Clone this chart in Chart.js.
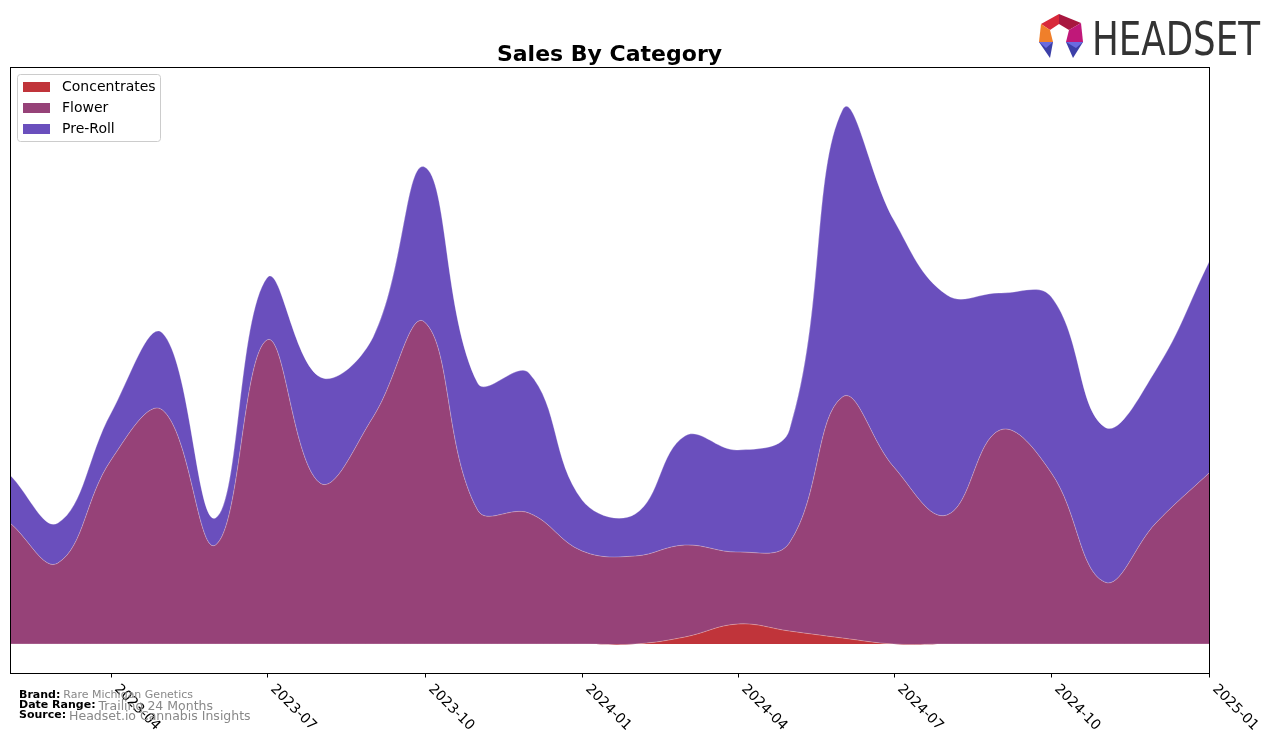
<!DOCTYPE html>
<html>
<head>
<meta charset="utf-8">
<script src="https://cdn.jsdelivr.net/npm/chart.js@4/dist/chart.umd.min.js"></script>
<style>
  body { margin: 0; background: #fff; }
  #wrap { width: 1276px; height: 743px; position: relative; }
</style>
</head>
<body>
<div id="wrap"><canvas id="chartSales" width="1276" height="743"></canvas></div>
<script>
const CONC  = '#C0343A';
const FLOW  = '#964278';
const PRE   = '#6A4FBD';

const months = ['2023-02','2023-03','2023-04','2023-05','2023-06','2023-07','2023-08','2023-09','2023-10','2023-11','2023-12',
  '2024-01','2024-02','2024-03','2024-04','2024-05','2024-06','2024-07','2024-08','2024-09','2024-10','2024-11','2024-12','2025-01'];
const tickLabels = ['2023-04','2023-07','2023-10','2024-01','2024-04','2024-07','2024-10','2025-01'];

// values (arbitrary units, stacked)
const concentrates = [0, 0, 0, 0, 0, 0, 0, 0, 0, 0, 0, 0, 0, 7, 20, 13, 6, 0, 0, 0, 0, 0, 0, 0];
const flower       = [121, 81, 184, 234, 99, 304, 161, 227, 322, 134, 131, 93, 88, 92, 72, 88, 241, 177, 129, 214, 171, 62, 121, 171];
const preRoll      = [48, 40, 47, 77, 27, 62, 106, 80, 155, 127, 140, 51, 42, 109, 102, 113, 287, 247, 220, 137, 176, 155, 153, 211];

const seriesNames = ['Concentrates', 'Flower', 'Pre-Roll'];

const footer = [
  ['Brand:', 'Rare Michigan Genetics', 11],
  ['Date Range:', 'Trailing 24 Months', 12.5],
  ['Source:', 'Headset.io Cannabis Insights', 12.5],
];

// days since first month, so spacing follows the calendar
function dayOf(m) {
  const [y, mo] = m.split('-').map(Number);
  const [y0, m0] = months[0].split('-').map(Number);
  return (Date.UTC(y, mo - 1, 1) - Date.UTC(y0, m0 - 1, 1)) / 86400000;
}
const xDays = months.map(dayOf);

function poly(ctx, pts, color) {
  ctx.beginPath();
  ctx.moveTo(pts[0][0], pts[0][1]);
  for (let i = 1; i < pts.length; i++) ctx.lineTo(pts[i][0], pts[i][1]);
  ctx.closePath();
  ctx.fillStyle = color;
  ctx.fill();
}

const decor = {
  id: 'decor',
  afterDraw(chart) {
    const ctx = chart.ctx;
    const a = chart.chartArea;
    const xs = chart.scales.x;
    ctx.save();

    // frame
    ctx.strokeStyle = '#000';
    ctx.lineWidth = 1;
    ctx.strokeRect(a.left + 0.5, a.top + 0.5, a.right - a.left, a.bottom - a.top);

    // x ticks + rotated labels
    ctx.font = '14px "DejaVu Sans"';
    ctx.fillStyle = '#000';
    ctx.textAlign = 'left';
    ctx.textBaseline = 'top';
    tickLabels.forEach(lbl => {
      const x = Math.round(xs.getPixelForValue(dayOf(lbl))) + 0.5;
      ctx.beginPath();
      ctx.moveTo(x, a.bottom);
      ctx.lineTo(x, a.bottom + 4.5);
      ctx.stroke();
      ctx.save();
      ctx.translate(x + 10, a.bottom + 9);
      ctx.rotate(Math.PI / 4);
      ctx.fillText(lbl, 0, 0);
      ctx.restore();
    });

    // title
    ctx.font = 'bold 22px "DejaVu Sans"';
    ctx.textAlign = 'center';
    ctx.textBaseline = 'alphabetic';
    ctx.fillText('Sales By Category', (a.left + a.right) / 2, 61);

    // legend
    ctx.beginPath();
    ctx.roundRect(17.5, 74.5, 143, 67, 3);
    ctx.fillStyle = 'rgba(255,255,255,0.8)';
    ctx.fill();
    ctx.strokeStyle = '#cccccc';
    ctx.stroke();
    ctx.font = '14px "DejaVu Sans"';
    ctx.textAlign = 'left';
    ctx.textBaseline = 'middle';
    chart.data.datasets.forEach((ds, i) => {
      const cy = 87 + i * 21;
      ctx.fillStyle = ds.backgroundColor;
      ctx.fillRect(23, cy - 5, 27, 10);
      ctx.fillStyle = '#000';
      ctx.fillText(ds.label, 62, cy);
    });

    // footer
    ctx.textBaseline = 'alphabetic';
    footer.forEach((f, i) => {
      const y = 698 + i * 10;
      ctx.font = 'bold 11px "DejaVu Sans"';
      ctx.fillStyle = '#000';
      ctx.fillText(f[0], 19, y);
      const w = ctx.measureText(f[0]).width;
      ctx.font = f[2] + 'px "DejaVu Sans"';
      ctx.fillStyle = '#888';
      ctx.fillText(f[1], 19 + w + 3, y + (i ? 2 : 0));
    });

    // logo
    poly(ctx, [[1041,24],[1059,14],[1059,24],[1050,30]], '#D8283A');
    poly(ctx, [[1059,14],[1081,23],[1069,30],[1059,24]], '#A8173F');
    poly(ctx, [[1081,23],[1083,42],[1066,42],[1069,30]], '#C01879');
    poly(ctx, [[1041,24],[1050,30],[1053,42],[1039,42]], '#F07F2A');
    poly(ctx, [[1039,42],[1053,42],[1050,58]], '#3C3FA8');
    poly(ctx, [[1039,42],[1053,42],[1046,48]], '#6A6BE0');
    poly(ctx, [[1066,42],[1083,42],[1073,58]], '#3C3FA8');
    poly(ctx, [[1066,42],[1083,42],[1076,48]], '#6A6BE0');
    ctx.font = '47px "DejaVu Sans Condensed", "DejaVu Sans"';
    ctx.fillStyle = '#333333';
    ctx.textBaseline = 'alphabetic';
    const tw = ctx.measureText('HEADSET').width;
    ctx.save();
    ctx.translate(1092, 55);
    ctx.scale(168 / tw, 1);
    ctx.fillText('HEADSET', 0, 0);
    ctx.restore();

    ctx.restore();
  }
};

function mkDataset(label, values, color, fill) {
  return { label, data: values.map((v, i) => ({ x: xDays[i], y: v })), backgroundColor: color,
    borderColor: 'rgba(255,255,255,0.35)', borderWidth: 0.8, fill, tension: 0.4, pointRadius: 0 };
}

new Chart(document.getElementById('chartSales').getContext('2d'), {
  type: 'line',
  data: {
    datasets: [
      mkDataset(seriesNames[0], concentrates, CONC, 'origin'),
      mkDataset(seriesNames[1], flower, FLOW, '-1'),
      mkDataset(seriesNames[2], preRoll, PRE, '-1'),
    ]
  },
  options: {
    responsive: false,
    animation: false,
    layout: { padding: { left: 10, right: 67, top: 67, bottom: 70 } },
    plugins: { legend: { display: false }, title: { display: false }, tooltip: { enabled: false } },
    scales: {
      x: { type: 'linear', display: false, min: xDays[0], max: xDays[xDays.length - 1] },
      y: { display: false, stacked: true, min: -29, max: 577 }
    }
  },
  plugins: [decor]
});
</script>
</body>
</html>
